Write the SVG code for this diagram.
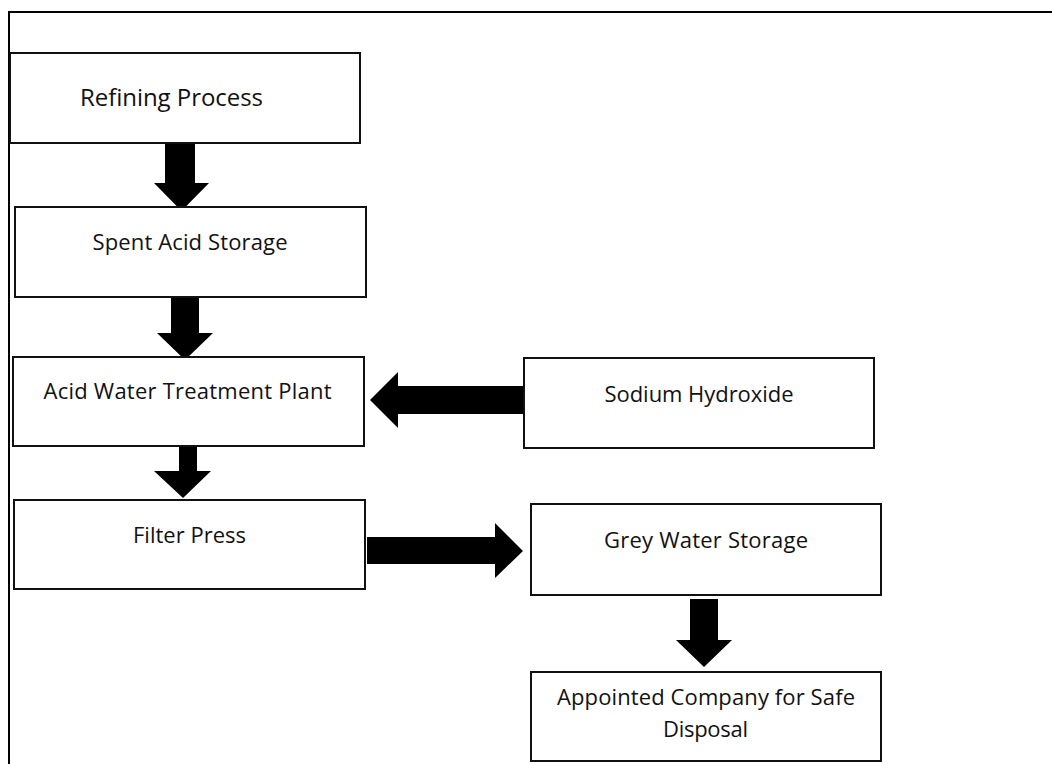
<svg xmlns="http://www.w3.org/2000/svg" width="1052" height="764" viewBox="0 0 1052 764">
<style>
.box{fill:#fff;stroke:#111;stroke-width:2}
.lbl{font-family:"Open Sans","Liberation Sans",sans-serif;font-size:22px;fill:#111;text-anchor:middle}
.arr{fill:#000}
.frame{stroke:#000;stroke-width:2;fill:none}
</style>
<rect width="1052" height="764" fill="#fff"/>
<g id="frame"><path class="frame" d="M9,764 V12 H1052"/></g>
<g id="connectors">
<polygon class="arr" points="165,143 195,143 195,183 209,183 181.5,211 154,183 165,183"/>
<polygon class="arr" points="171,298 199,298 199,333 213,333 185,360 157,333 171,333"/>
<polygon class="arr" points="524,386 398,386 398,372 370,400 398,428 398,414 524,414"/>
<polygon class="arr" points="179,446 197,446 197,471 211,471 183,498 154,471 179,471"/>
<polygon class="arr" points="367,537 495,537 495,523 523,551 495,578 495,564 367,564"/>
<polygon class="arr" points="690,599 718,599 718,640 732,640 704,667 676,640 690,640"/>
</g>
<g id="refining"><rect class="box" x="10" y="53" width="350" height="90"/><text class="lbl" x="171.5" y="106" style="font-size:24px" textLength="183">Refining Process</text></g>
<g id="spent"><rect class="box" x="15" y="207" width="351" height="90"/><text class="lbl" x="190" y="250" textLength="195">Spent Acid Storage</text></g>
<g id="acid"><rect class="box" x="13" y="357" width="351" height="89"/><text class="lbl" x="187.5" y="399" textLength="288">Acid Water Treatment Plant</text></g>
<g id="sodium"><rect class="box" x="524" y="358" width="350" height="90"/><text class="lbl" x="699" y="402" textLength="189">Sodium Hydroxide</text></g>
<g id="filter"><rect class="box" x="14" y="500" width="351" height="89"/><text class="lbl" x="189.5" y="543" textLength="113">Filter Press</text></g>
<g id="grey"><rect class="box" x="531" y="504" width="350" height="91"/><text class="lbl" x="706" y="548" textLength="204">Grey Water Storage</text></g>
<g id="appointed"><rect class="box" x="531" y="672" width="350" height="89"/><text class="lbl" x="706" y="705" textLength="298">Appointed Company for Safe</text><text class="lbl" x="705.5" y="737" textLength="85">Disposal</text></g>
</svg>
